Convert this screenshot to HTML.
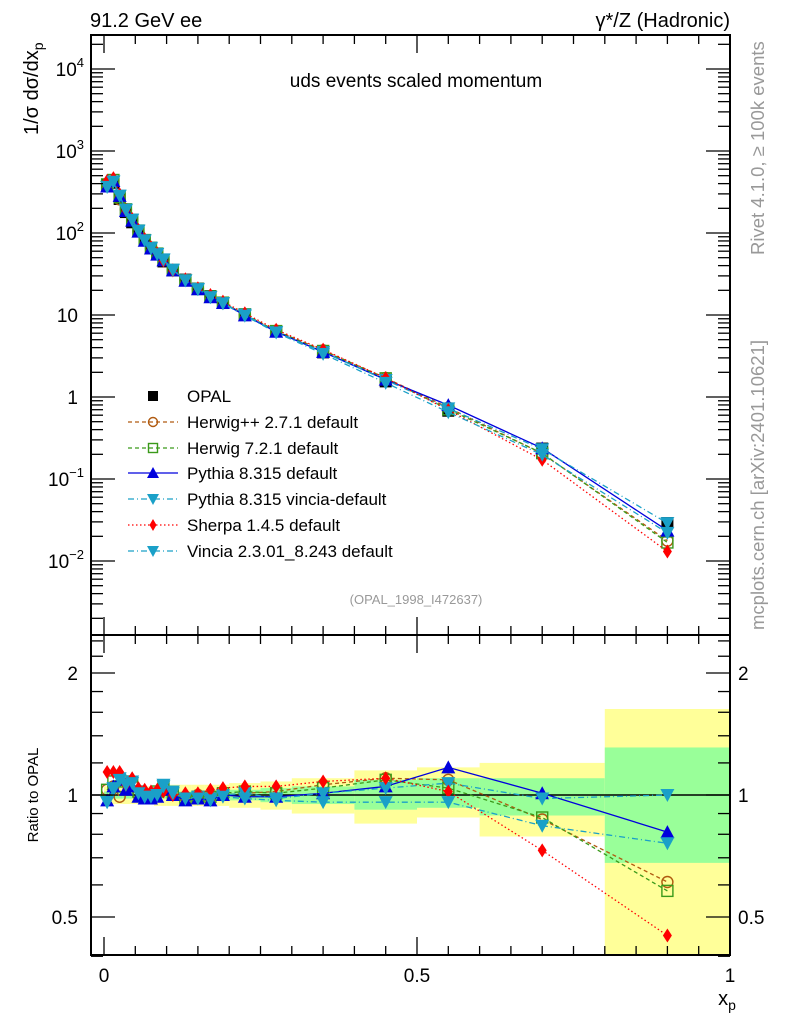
<!DOCTYPE html>
<html><head><meta charset="utf-8">
<style>
body{margin:0;background:#fff;}
svg{display:block;font-family:"Liberation Sans",sans-serif;}
</style></head>
<body>
<svg id="chart" width="786" height="1024" viewBox="0 0 786 1024" xmlns="http://www.w3.org/2000/svg">
<g id="bands"></g>
<g id="marks"></g>
<g id="axes"></g>
<text x="90" y="27" font-size="20">91.2 GeV ee</text>
<text x="730" y="27" font-size="20" text-anchor="end">γ*/Z (Hadronic)</text>
<text x="416" y="87" font-size="19" text-anchor="middle">uds events scaled momentum</text>
<text x="416" y="604" font-size="13" fill="#999" text-anchor="middle">(OPAL_1998_I472637)</text>
<text transform="translate(38,135) rotate(-90)" font-size="20">1/σ  dσ/dx<tspan font-size="14" dy="5">p</tspan></text>
<text transform="translate(38,795) rotate(-90)" font-size="15" text-anchor="middle">Ratio to OPAL</text>
<text x="727" y="1005" font-size="20" text-anchor="middle">x<tspan font-size="14" dy="5">p</tspan></text>
<text transform="translate(764,255) rotate(-90)" font-size="18.5" fill="#999">Rivet 4.1.0, ≥ 100k events</text>
<text transform="translate(764,630) rotate(-90)" font-size="18.5" fill="#999">mcplots.cern.ch [arXiv:2401.10621]</text>
<g id="legend"></g>
</svg>
<script>
const xs = [0.005,0.015,0.025,0.035,0.045,0.055,0.065,0.075,0.085,0.095,0.11,0.13,0.15,0.17,0.19,0.225,0.275,0.35,0.45,0.55,0.7,0.9];
const opal = [380,410,260,180,135,105,82,66,55,45,35,27,21,17,14,10,6.3,3.5,1.55,0.68,0.235,0.029];
const rHerwigpp = [1.03,1.05,0.99,1.08,1.06,1.00,0.99,1.00,1.01,1.05,1.01,0.99,1.00,0.99,1.00,1.01,1.02,1.06,1.10,1.09,0.87,0.61];
const rHerwig7 = [1.03,1.08,1.05,1.08,1.07,1.02,1.00,1.00,1.02,1.05,1.01,0.98,0.99,0.99,1.01,1.02,1.01,1.04,1.09,1.04,0.88,0.58];
const rPythia = [0.97,1.05,1.09,1.03,1.05,0.99,0.98,0.98,0.99,1.03,1.00,0.97,0.98,0.97,1.00,0.99,0.99,1.01,1.05,1.17,1.01,0.81];
const rPyVincia = [0.96,1.04,1.10,1.07,1.08,1.02,0.99,1.00,1.01,1.06,1.02,0.98,0.99,0.98,1.00,1.01,0.98,1.01,1.04,1.07,0.98,1.00];
const rSherpa = [1.14,1.14,1.14,1.06,1.10,1.04,1.03,1.02,1.03,1.02,1.00,1.01,1.01,1.03,1.04,1.05,1.05,1.08,1.10,1.02,0.73,0.45];
const rVincia = [0.96,1.03,1.09,1.06,1.07,1.01,0.99,0.99,1.00,1.05,1.01,0.98,0.98,0.97,0.99,0.98,0.97,0.96,0.96,0.96,0.84,0.76];
const binEdges = [0,0.01,0.02,0.03,0.04,0.05,0.06,0.07,0.08,0.09,0.1,0.12,0.14,0.16,0.18,0.2,0.25,0.3,0.4,0.5,0.6,0.8,1.0];
const yellowUp = [1.05,1.05,1.05,1.05,1.05,1.05,1.05,1.05,1.05,1.06,1.06,1.06,1.06,1.06,1.06,1.07,1.08,1.10,1.15,1.17,1.20,1.63];
const yellowDn = [0.95,0.95,0.95,0.95,0.95,0.95,0.95,0.95,0.94,0.94,0.94,0.94,0.94,0.94,0.94,0.93,0.92,0.90,0.85,0.88,0.79,0.39];
const greenUp = [1.02,1.02,1.02,1.02,1.02,1.02,1.02,1.02,1.02,1.02,1.02,1.02,1.02,1.02,1.03,1.03,1.04,1.05,1.09,1.10,1.10,1.31];
const greenDn = [0.98,0.98,0.98,0.98,0.98,0.98,0.98,0.98,0.98,0.98,0.98,0.98,0.98,0.98,0.97,0.97,0.96,0.95,0.92,0.93,0.89,0.68];

const L=91,R=730,T=35,MID=635,B=955;
const X=v=>104+v*626;
const Y=v=>397-82*Math.log10(v);
const RY=v=>795-122*Math.log2(v);
const NS='http://www.w3.org/2000/svg';
function mk(tag,attrs,parent){const e=document.createElementNS(NS,tag);for(const k in attrs)e.setAttribute(k,attrs[k]);parent.appendChild(e);return e;}
const bands=document.getElementById('bands'),marks=document.getElementById('marks'),axes=document.getElementById('axes'),legend=document.getElementById('legend');

for(let i=0;i<binEdges.length-1;i++){
  const x0=X(binEdges[i]),x1=Math.min(X(binEdges[i+1]),R);
  const yb=mk('rect',{x:x0,y:RY(yellowUp[i]),width:x1-x0,height:Math.min(RY(yellowDn[i]),B)-RY(yellowUp[i]),fill:'#ffff99'},bands);
  
  
  const gb=mk('rect',{x:x0,y:RY(greenUp[i]),width:x1-x0,height:RY(greenDn[i])-RY(greenUp[i]),fill:'#99ff99'},bands);
  
  
}
const one=mk('line',{x1:L,x2:R,y1:RY(1),y2:RY(1),stroke:'#000','stroke-width':1.5},bands);



function marker(type,x,y,color,parent,s){
  s=s||6;
  let e;
  if(type==='sq') e=mk('rect',{x:x-s,y:y-s,width:2*s,height:2*s,fill:color},parent);
  else if(type==='osq') e=mk('rect',{x:x-s+0.5,y:y-s+0.5,width:2*s-1,height:2*s-1,fill:'none',stroke:color,'stroke-width':1.4},parent);
  else if(type==='oc') e=mk('circle',{cx:x,cy:y,r:s-0.5,fill:'none',stroke:color,'stroke-width':1.4},parent);
  else if(type==='tu') e=mk('polygon',{points:`${x},${y-s-1} ${x-s-1},${y+s} ${x+s+1},${y+s}`,fill:color},parent);
  else if(type==='td') e=mk('polygon',{points:`${x},${y+s+1} ${x-s-1},${y-s} ${x+s+1},${y-s}`,fill:color},parent);
  else if(type==='dm') e=mk('polygon',{points:`${x},${y-s-1} ${x-s+1.5},${y} ${x},${y+s+1} ${x+s-1.5},${y}`,fill:color},parent);
  return e;
}
const series=[
 {name:'Herwig++ 2.7.1 default',r:rHerwigpp,c:'#b05a10',dash:'4,3',m:'oc',id:'herwigpp'},
 {name:'Herwig 7.2.1 default',r:rHerwig7,c:'#3a9a1a',dash:'4,3',m:'osq',id:'herwig7'},
 {name:'Pythia 8.315 default',r:rPythia,c:'#0000dd',dash:'',m:'tu',id:'pythia'},
 {name:'Pythia 8.315 vincia-default',r:rPyVincia,c:'#1aa0c8',dash:'6,3,1,3',m:'td',id:'pythia-vincia'},
 {name:'Sherpa 1.4.5 default',r:rSherpa,c:'#ff0000',dash:'1.5,2.5',m:'dm',id:'sherpa'},
 {name:'Vincia 2.3.01_8.243 default',r:rVincia,c:'#1aa0c8',dash:'6,3,1,3',m:'td',id:'vincia'}
];
const opalG=mk('g',{},marks);


xs.forEach((x,i)=>{const m=marker('sq',X(x),Y(opal[i]),'#000',opalG,6);

});
series.forEach(s=>{
  const g=mk('g',{},marks);
  
  
  const pm=xs.map((x,i)=>X(x)+','+Y(opal[i]*s.r[i])).join(' ');
  const pr=xs.map((x,i)=>X(x)+','+RY(s.r[i])).join(' ');
  const l1=mk('polyline',{points:pm,fill:'none',stroke:s.c,'stroke-width':1.3,'stroke-dasharray':s.dash},g);
  
  
  const l2=mk('polyline',{points:pr,fill:'none',stroke:s.c,'stroke-width':1.3,'stroke-dasharray':s.dash},g);
  
  
  xs.forEach((x,i)=>{
    const a=marker(s.m,X(x),Y(opal[i]*s.r[i]),s.c,g,6);
    
    
    const b=marker(s.m,X(x),RY(s.r[i]),s.c,g,6);
    
    
  });
});

[[T,MID],[MID,B]].forEach(([t,b])=>{const f=mk('rect',{x:L,y:t,width:R-L,height:b-t,fill:'none',stroke:'#000','stroke-width':2},axes);

});
for(let k=0;k<=20;k++){
  const v=k*0.05, x=X(v); if(x>R) continue;
  const major=(k%10===0), len=major?18:9;
  [[T,1],[MID,-1],[MID,1],[B,-1]].forEach(([y,d])=>mk('line',{x1:x,x2:x,y1:y,y2:y+d*len,stroke:'#000','stroke-width':1.3},axes));
}
const xticks=['0','0.5','1'];
[0,0.5,1].forEach((v,i)=>{const t=mk('text',{x:X(v),y:982,'font-size':19,'text-anchor':'middle'},axes);t.textContent=xticks[i];

});
for(let e=-3;e<=4;e++){for(let m=1;m<=9;m++){
  const v=m*Math.pow(10,e), y=Y(v); if(y<T||y>MID) continue;
  const len=m===1?24:12;
  mk('line',{x1:L,x2:L+len,y1:y,y2:y,stroke:'#000','stroke-width':1.3},axes);
  mk('line',{x1:R,x2:R-len,y1:y,y2:y,stroke:'#000','stroke-width':1.3},axes);
}}
const yLabels=[['10','-2'],['10','-1'],['1',''],['10',''],['10','2'],['10','3'],['10','4']];
[-2,-1,0,1,2,3,4].forEach((e,i)=>{
  const t=mk('text',{x:78,y:Y(Math.pow(10,e))+7,'font-size':19,'text-anchor':'end'},axes);
  
  
  if(yLabels[i][1]){t.innerHTML=yLabels[i][0]+'<tspan font-size="13" dy="-9">'+yLabels[i][1].replace('-','−')+'</tspan>';t.setAttribute('x',84);}
  else t.textContent=yLabels[i][0];
});
const rt=[0.4,0.5,0.6,0.7,0.8,0.9,1,1.2,1.4,1.6,1.8,2,2.2,2.4];
rt.forEach(v=>{const y=RY(v);const major=(v===0.5||v===1||v===2);const len=major?24:12;
 mk('line',{x1:L,x2:L+len,y1:y,y2:y,stroke:'#000','stroke-width':1.3},axes);
 mk('line',{x1:R,x2:R-len,y1:y,y2:y,stroke:'#000','stroke-width':1.3},axes);});
const rLabels=['0.5','1','2'];
[0.5,1,2].forEach((v,i)=>{
  const a=mk('text',{x:78,y:RY(v)+7,'font-size':19,'text-anchor':'end'},axes);a.textContent=rLabels[i];
  
  
  const b=mk('text',{x:738,y:RY(v)+7,'font-size':19},axes);b.textContent=rLabels[i];
  
  
});

const ly=[396,422,448,473,499,525,551];
const e0=mk('g',{},legend);


marker('sq',153,ly[0],'#000',e0,5);
const t0=mk('text',{x:187,y:ly[0]+6,'font-size':17},e0);t0.textContent='OPAL';
series.forEach((s,i)=>{
  const g=mk('g',{},legend);
  
  
  const y=ly[i+1];
  mk('line',{x1:128,x2:178,y1:y,y2:y,stroke:s.c,'stroke-width':1.3,'stroke-dasharray':s.dash},g);
  marker(s.m,153,y,s.c,g,5);
  const t=mk('text',{x:187,y:y+6,'font-size':17},g);t.textContent=s.name;
});
</script>
</body></html>
